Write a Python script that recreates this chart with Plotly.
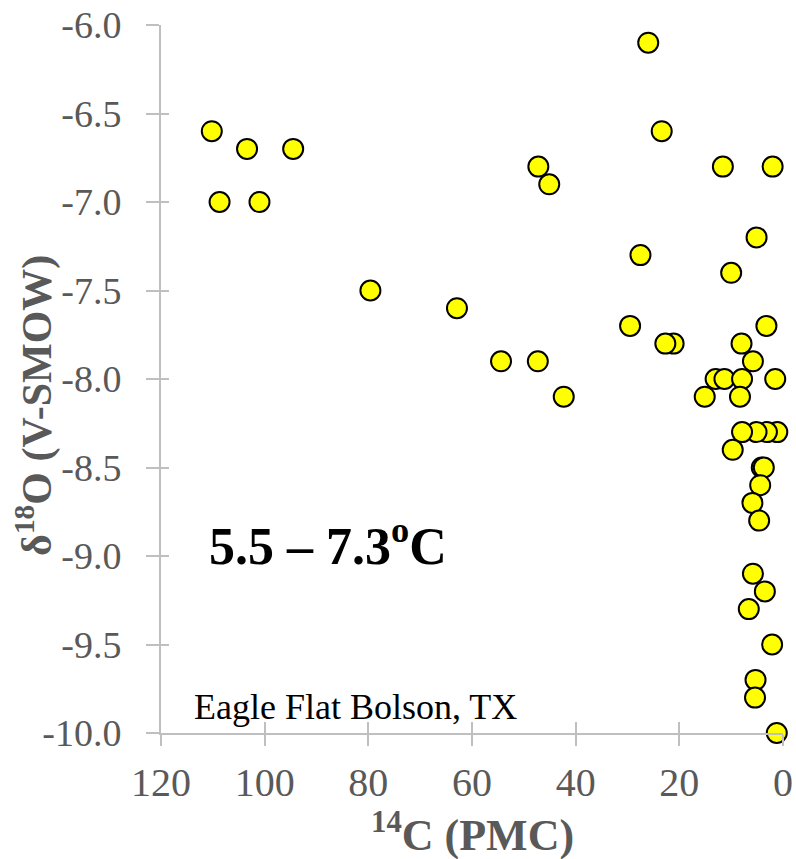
import plotly.graph_objects as go

# 14C (PMC) and d18O (V-SMOW) values
pmc = [110.2, 103.4, 94.5, 108.7, 101.0, 79.6, 62.9, 47.2, 45.1, 54.4, 47.3, 42.3,
       26.0, 23.4, 11.6, 2.0, 5.1, 27.5, 10.0, 29.5, 3.2, 21.1, 22.7, 8.0, 5.8,
       13.0, 11.3, 7.9, 1.5, 15.1, 8.3,
       1.1, 3.1, 5.1, 7.9,
       9.7, 4.1, 3.7, 4.4, 5.9, 4.6, 5.8, 3.5, 6.6, 2.1, 5.3, 5.4, 1.2]
d18o = [-6.6, -6.7, -6.7, -7.0, -7.0, -7.5, -7.6, -6.8, -6.9, -7.9, -7.9, -8.1,
        -6.1, -6.6, -6.8, -6.8, -7.2, -7.3, -7.4, -7.7, -7.7, -7.8, -7.8, -7.8, -7.9,
        -8.0, -8.0, -8.0, -8.0, -8.1, -8.1,
        -8.3, -8.3, -8.3, -8.3,
        -8.4, -8.5, -8.5, -8.6, -8.7, -8.8, -9.1, -9.2, -9.3, -9.5, -9.7, -9.8, -10.0]

x_ticks = [120, 100, 80, 60, 40, 20, 0]
y_ticks = [-6.0, -6.5, -7.0, -7.5, -8.0, -8.5, -9.0, -9.5, -10.0]
y_tick_text = ["-6.0", "-6.5", "-7.0", "-7.5", "-8.0", "-8.5", "-9.0", "-9.5", "-10.0"]

FONT = "Liberation Serif, Times New Roman, serif"
GRAY = "#595959"
AXIS = "#BFBFBF"

fig = go.Figure()
fig.add_trace(go.Scatter(
    x=pmc, y=d18o, mode="markers", cliponaxis=False, showlegend=False,
    marker=dict(size=20, color="#FFFF00", line=dict(color="black", width=2)),
))
# invisible trace to activate the overlay axes (inner halves of crossing ticks)
fig.add_trace(go.Scatter(x=[None], y=[None], xaxis="x2", yaxis="y2",
                         mode="markers", showlegend=False, hoverinfo="skip"))

fig.update_layout(
    template="none",
    width=796, height=859,
    margin=dict(l=161, r=13, t=25, b=126, autoexpand=False),
    paper_bgcolor="white", plot_bgcolor="white",
    font=dict(family=FONT, color=GRAY),
    xaxis=dict(range=[120, 0], tickvals=x_ticks, ticktext=[str(v) for v in x_ticks],
               automargin=False,
               showgrid=False, zeroline=False, showline=True, linecolor=AXIS, linewidth=2,
               ticks="outside", ticklen=11, tickwidth=2, tickcolor=AXIS,
               tickfont=dict(family=FONT, size=40, color=GRAY), ticklabelstandoff=2),
    yaxis=dict(range=[-10, -6], tickvals=y_ticks, ticktext=y_tick_text,
               automargin=False,
               showgrid=False, zeroline=False, showline=True, linecolor=AXIS, linewidth=2,
               ticks="outside", ticklen=13, tickwidth=2, tickcolor=AXIS,
               tickfont=dict(family=FONT, size=38, color=GRAY), ticklabelstandoff=17),
    xaxis2=dict(range=[120, 0], overlaying="x", tickvals=x_ticks, showticklabels=False,
                automargin=False,
                showgrid=False, zeroline=False, showline=False,
                ticks="inside", ticklen=11, tickwidth=2, tickcolor=AXIS),
    yaxis2=dict(range=[-10, -6], overlaying="y", tickvals=y_ticks, showticklabels=False,
                automargin=False,
                showgrid=False, zeroline=False, showline=False,
                ticks="inside", ticklen=8, tickwidth=2, tickcolor=AXIS),
    annotations=[
        dict(text="<b><sup>14</sup>C (PMC)</b>", xref="paper", yref="paper",
             x=0.5, y=-0.14, xanchor="center", yanchor="middle", showarrow=False,
             font=dict(family=FONT, size=44, color=GRAY)),
        dict(text="<b>δ<sup>18</sup>O (V-SMOW)</b>", xref="paper", yref="paper",
             x=-0.203, y=0.463, xanchor="center", yanchor="middle", showarrow=False,
             textangle=-90, font=dict(family=FONT, size=42, color=GRAY)),
        dict(text="<b>5.5 – 7.3<sup>o</sup>C</b>", xref="paper", yref="paper",
             x=0.2685, y=0.269, xanchor="center", yanchor="middle", showarrow=False,
             font=dict(family=FONT, size=52, color="black")),
        dict(text="Eagle Flat Bolson, TX", xref="paper", yref="paper",
             x=0.312, y=0.037, xanchor="center", yanchor="middle", showarrow=False,
             font=dict(family=FONT, size=36, color="black")),
    ],
)

fig.write_html("out.html", config={"displayModeBar": False},
               post_script="document.body.style.margin='0';")
